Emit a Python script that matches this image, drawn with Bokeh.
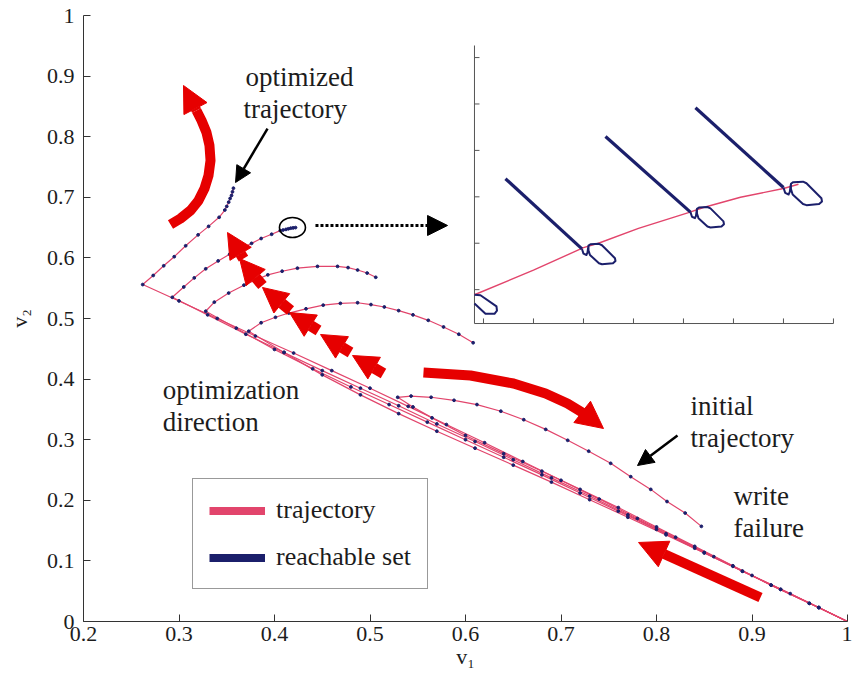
from bokeh.plotting import figure
from bokeh.models import (Range1d, Arrow, NormalHead, Legend, LegendItem, FixedTicker,
                          CustomJSTickFormatter, ColumnDataSource)
from bokeh.core.properties import value
from bokeh.embed import file_html
from bokeh.resources import INLINE

# ---------------- data ----------------
x_ticks = [0.2, 0.3, 0.4, 0.5, 0.6, 0.7, 0.8, 0.9, 1.0]
y_ticks = [0.0, 0.1, 0.2, 0.3, 0.4, 0.5, 0.6, 0.7, 0.8, 0.9, 1.0]

# straight legs: corner -> write failure point (1, 0)
leg_a_x = [0.262, 0.30, 0.34, 0.38, 0.42, 0.46, 0.50, 0.54, 0.58, 0.62, 0.66, 0.70, 0.74, 0.78, 0.82, 0.86, 0.90, 0.94, 0.97, 1.0]
leg_a_y = [0.556, 0.529, 0.500, 0.471, 0.443, 0.414, 0.385, 0.355, 0.325, 0.295, 0.264, 0.233, 0.202, 0.170, 0.139, 0.107, 0.076, 0.046, 0.023, 0.0]
leg_b_x = [0.293, 0.33, 0.37, 0.41, 0.45, 0.49, 0.53, 0.57, 0.61, 0.65, 0.69, 0.73, 0.77, 0.81, 0.85, 0.89, 0.93, 0.97, 1.0]
leg_b_y = [0.535, 0.506, 0.474, 0.444, 0.414, 0.385, 0.356, 0.326, 0.297, 0.267, 0.237, 0.207, 0.176, 0.145, 0.114, 0.083, 0.053, 0.023, 0.0]
leg_c_x = [0.328, 0.36, 0.40, 0.44, 0.48, 0.52, 0.56, 0.60, 0.64, 0.68, 0.72, 0.76, 0.80, 0.84, 0.88, 0.92, 0.96, 1.0]
leg_c_y = [0.512, 0.484, 0.449, 0.417, 0.387, 0.358, 0.329, 0.300, 0.271, 0.242, 0.212, 0.182, 0.152, 0.121, 0.091, 0.060, 0.030, 0.0]
leg_d_x = [0.373, 0.41, 0.45, 0.49, 0.53, 0.57, 0.61, 0.65, 0.69, 0.73, 0.77, 0.81, 0.85, 0.89, 0.93, 0.97, 1.0]
leg_d_y = [0.479, 0.444, 0.407, 0.374, 0.343, 0.314, 0.286, 0.258, 0.230, 0.201, 0.172, 0.143, 0.113, 0.083, 0.053, 0.023, 0.0]
leg_e_x = [0.529, 0.545, 0.565, 0.60, 0.64, 0.68, 0.72, 0.76, 0.80, 0.84, 0.88, 0.92, 0.96, 1.0]
leg_e_y = [0.370, 0.354, 0.336, 0.307, 0.277, 0.248, 0.218, 0.188, 0.156, 0.124, 0.092, 0.060, 0.030, 0.0]

# arcs: corner -> end of trajectory
arc_a_x = [0.262, 0.273, 0.284, 0.295, 0.307, 0.320, 0.331, 0.342, 0.348, 0.350, 0.352, 0.3535, 0.355, 0.356, 0.357]
arc_a_y = [0.556, 0.571, 0.587, 0.602, 0.620, 0.638, 0.652, 0.667, 0.679, 0.685, 0.692, 0.698, 0.703, 0.709, 0.715]
arc_b_x = [0.293, 0.305, 0.316, 0.328, 0.341, 0.353, 0.365, 0.376, 0.386, 0.397, 0.406, 0.409, 0.412, 0.4145, 0.417, 0.4195, 0.422]
arc_b_y = [0.535, 0.552, 0.567, 0.582, 0.595, 0.606, 0.615, 0.624, 0.632, 0.639, 0.645, 0.646, 0.647, 0.648, 0.649, 0.6495, 0.650]
arc_c_x = [0.328, 0.337, 0.352, 0.368, 0.381, 0.393, 0.408, 0.424, 0.445, 0.466, 0.477, 0.487, 0.497, 0.506]
arc_c_y = [0.512, 0.527, 0.542, 0.555, 0.564, 0.572, 0.578, 0.583, 0.586, 0.586, 0.584, 0.580, 0.575, 0.568]
arc_d_x = [0.373, 0.386, 0.401, 0.415, 0.433, 0.451, 0.469, 0.487, 0.501, 0.515, 0.530, 0.545, 0.561, 0.577, 0.593, 0.608]
arc_d_y = [0.479, 0.493, 0.502, 0.509, 0.516, 0.522, 0.525, 0.526, 0.523, 0.519, 0.513, 0.506, 0.497, 0.486, 0.474, 0.460]
arc_e_x = [0.529, 0.543, 0.564, 0.588, 0.612, 0.637, 0.661, 0.684, 0.707, 0.729, 0.752, 0.773, 0.794, 0.811, 0.830, 0.847]
arc_e_y = [0.370, 0.372, 0.370, 0.365, 0.358, 0.347, 0.333, 0.317, 0.299, 0.281, 0.261, 0.239, 0.218, 0.198, 0.179, 0.157]

# inset (zoom of the circled region), inset units
inset_x_ticks = [0, 1, 2, 3, 4, 5, 6, 7]
inset_y_ticks = [0, 1, 2, 3, 4, 5]
inset_traj_x = [-0.18, 1.0, 2.0, 2.3, 3.1, 4.1, 4.4, 5.14, 6.0, 6.3]
inset_traj_y = [-0.11, 0.42, 0.905, 1.0, 1.32, 1.66, 1.77, 1.99, 2.18, 2.27]
inset_diag_x0 = [0.44, 2.44, 4.24]
inset_diag_y0 = [2.39, 3.30, 3.92]
inset_diag_x1 = [1.97, 4.14, 6.0]
inset_diag_y1 = [0.877, 1.67, 2.2]
inset_loop_scale = [1.0, 1.0, 1.15]
loop_shape_x = [0.0, 0.03, 0.09, 0.11, 0.12, 0.13, 0.17, 0.34, 0.40, 0.66, 0.67, 0.62, 0.40, 0.34, 0.16, 0.13, 0.13]
loop_shape_y = [0.0, -0.10, -0.13, -0.08, 0.0, 0.07, 0.10, 0.11, 0.08, -0.20, -0.26, -0.31, -0.33, -0.31, -0.13, -0.03, 0.07]
first_loop_x = [-0.18, -0.06, 0.26, 0.27, 0.22, 0.04, -0.18]
first_loop_y = [-0.11, -0.12, -0.36, -0.45, -0.52, -0.52, -0.30]

# red "optimization direction" arrows
left_arc_x = [0.2911, 0.3016, 0.3120, 0.3204, 0.3267, 0.3309, 0.3330, 0.3319, 0.3288, 0.3236, 0.3183]
left_arc_y = [0.6551, 0.6650, 0.6782, 0.6947, 0.7145, 0.7360, 0.7607, 0.7855, 0.8069, 0.8267, 0.8432]
left_tip = (0.3047, 0.8845)
mid_arc_x = [0.556, 0.6052, 0.6503, 0.6838, 0.7068, 0.7257]
mid_arc_y = [0.4109, 0.4059, 0.3927, 0.3762, 0.3597, 0.3416]
mid_tip = (0.7445, 0.3185)
blk_tail_x = [0.5141, 0.4796, 0.4461, 0.4168, 0.3874, 0.3675]
blk_tail_y = [0.4092, 0.4439, 0.4802, 0.5132, 0.5545, 0.5990]
blk_tip_x = [0.4817, 0.4482, 0.4157, 0.3874, 0.3634, 0.3508]
blk_tip_y = [0.4389, 0.4736, 0.5099, 0.5512, 0.5990, 0.6419]
low_arrow = (0.9089, 0.0396, 0.7812, 0.1304)

# black annotations
opt_arrow = (0.3927, 0.8135, 0.3592, 0.7244)
init_arrow = (0.8220, 0.3069, 0.7801, 0.2574)
zoom_arrow = (0.4429, 0.6535, 0.5812, 0.6535)
circle_xy = (0.4188, 0.6502)

note_x = [0.3696, 0.3675, 0.2830, 0.2830, 0.8356, 0.8356, 0.8806, 0.8806]
note_y = [0.8977, 0.8465, 0.3812, 0.3284, 0.3564, 0.3036, 0.2079, 0.1551]
note_text = ["optimized", "trajectory", "optimization", "direction",
             "initial", "trajectory", "write", "failure"]

# ---------------- style ----------------
SERIF = "Liberation Serif"
PINK = "#e2456c"
NAVY = "#1b1f6b"
RED = "#e60000"
INK = "#1c1c1c"

p = figure(width=852, height=679, x_range=Range1d(0.2, 1.0), y_range=Range1d(0.0, 1.0),
           output_backend="svg", toolbar_location=None,
           min_border_left=83, min_border_right=5, min_border_top=15, min_border_bottom=58,
           outline_line_color=None, background_fill_color="white")
p.grid.visible = False

fmt = CustomJSTickFormatter(code="return (Math.round(tick*10)/10).toString();")
for ax, ticks, lab in ((p.xaxis[0], x_ticks, "v\u2081"), (p.yaxis[0], y_ticks, "v\u2082")):
    ax.ticker = FixedTicker(ticks=ticks)
    ax.formatter = fmt
    ax.major_tick_in = 7
    ax.major_tick_out = 0
    ax.minor_tick_line_color = None
    ax.axis_line_color = "#333333"
    ax.major_tick_line_color = "#333333"
    ax.major_label_text_font = SERIF
    ax.major_label_text_font_size = "22px"
    ax.major_label_text_color = INK
    ax.axis_label = lab
    ax.axis_label_text_font = SERIF
    ax.axis_label_text_font_style = "normal"
    ax.axis_label_text_font_size = "22px"
    ax.axis_label_text_color = INK
p.xaxis.major_label_standoff = 5
p.xaxis.axis_label_standoff = 0
p.yaxis.major_label_standoff = 9
p.yaxis.axis_label_standoff = 12

# ---------------- trajectories ----------------
trajs = [(leg_a_x, leg_a_y, arc_a_x, arc_a_y), (leg_b_x, leg_b_y, arc_b_x, arc_b_y),
         (leg_c_x, leg_c_y, arc_c_x, arc_c_y), (leg_d_x, leg_d_y, arc_d_x, arc_d_y),
         (leg_e_x, leg_e_y, arc_e_x, arc_e_y)]
xs, ys, dx, dy = [], [], [], []
for lx, ly, ax_, ay_ in trajs:
    tx = list(reversed(lx)) + list(ax_[1:])
    ty = list(reversed(ly)) + list(ay_[1:])
    xs.append(tx)
    ys.append(ty)
    dx += tx[1:]
    dy += ty[1:]
p.multi_line(xs, ys, line_color=PINK, line_width=1.2)
p.scatter(dx, dy, marker="circle", size=2.8, fill_color=NAVY, line_color=NAVY)

# ---------------- red arrows ----------------
p.line(left_arc_x, left_arc_y, line_color=RED, line_width=10, line_join="round")
p.add_layout(Arrow(end=NormalHead(size=26, fill_color=RED, line_color=RED),
                   x_start=left_arc_x[-1], y_start=left_arc_y[-1], x_end=left_tip[0], y_end=left_tip[1],
                   line_color=RED, line_width=10))
p.line(mid_arc_x, mid_arc_y, line_color=RED, line_width=10, line_join="round")
p.add_layout(Arrow(end=NormalHead(size=27, fill_color=RED, line_color=RED),
                   x_start=mid_arc_x[-1], y_start=mid_arc_y[-1], x_end=mid_tip[0], y_end=mid_tip[1],
                   line_color=RED, line_width=10))
blk = ColumnDataSource(dict(x0=blk_tail_x, y0=blk_tail_y, x1=blk_tip_x, y1=blk_tip_y))
p.add_layout(Arrow(end=NormalHead(size=25, fill_color=RED, line_color=RED),
                   x_start="x0", y_start="y0", x_end="x1", y_end="y1", source=blk,
                   line_color=RED, line_width=11))
p.add_layout(Arrow(end=NormalHead(size=28, fill_color=RED, line_color=RED),
                   x_start=low_arrow[0], y_start=low_arrow[1], x_end=low_arrow[2], y_end=low_arrow[3],
                   line_color=RED, line_width=10))

# ---------------- black annotations ----------------
for (x0, y0, x1, y1) in (opt_arrow, init_arrow):
    p.add_layout(Arrow(end=NormalHead(size=16, fill_color="black", line_color="black"),
                       x_start=x0, y_start=y0, x_end=x1, y_end=y1,
                       line_color="black", line_width=2.5))
p.add_layout(Arrow(end=NormalHead(size=20, fill_color="black", line_color="black"),
                   x_start=zoom_arrow[0], y_start=zoom_arrow[1], x_end=zoom_arrow[2], y_end=zoom_arrow[3],
                   line_color="black", line_width=3, line_dash="3 2"))
p.ellipse(x=[circle_xy[0]], y=[circle_xy[1]], width=26, height=20,
          width_units="screen", height_units="screen",
          fill_color=None, line_color="black", line_width=1.6)

p.text(x=note_x, y=note_y, text=note_text, text_font=value(SERIF), text_font_size="27px",
       text_baseline="middle", text_align="left", text_color=INK)

# ---------------- inset ----------------
INSET_L, INSET_R, INSET_B, INSET_T = 0.6094, 0.9853, 0.4917, 0.9505   # inset box in main coords
IX0, IX1, IY0, IY1 = -0.18, 7.0, -0.73, 5.26                        # inset data range
sx = (IX1 - IX0) / (INSET_R - INSET_L)
sy = (IY1 - IY0) / (INSET_T - INSET_B)
p.extra_x_ranges = {"ix": Range1d(IX0 - (INSET_L - 0.2) * sx, IX0 + (1.0 - INSET_L) * sx)}
p.extra_y_ranges = {"iy": Range1d(IY0 - (INSET_B - 0.0) * sy, IY0 + (1.0 - INSET_B) * sy)}
IK = dict(x_range_name="ix", y_range_name="iy")

seg_x0 = [IX0, IX0] + [t for t in inset_x_ticks] + [IX0 for _ in inset_y_ticks]
seg_y0 = [IY0, IY0] + [IY0 for _ in inset_x_ticks] + [t for t in inset_y_ticks]
seg_x1 = [IX0, IX1] + [t for t in inset_x_ticks] + [IX0 + 0.1 for _ in inset_y_ticks]
seg_y1 = [IY1, IY0] + [IY0 + 0.11 for _ in inset_x_ticks] + [t for t in inset_y_ticks]
p.segment(seg_x0, seg_y0, seg_x1, seg_y1, line_color="#555555", line_width=1, **IK)

p.line(inset_traj_x, inset_traj_y, line_color=PINK, line_width=1.4, **IK)
p.segment(inset_diag_x0, inset_diag_y0, inset_diag_x1, inset_diag_y1,
          line_color=NAVY, line_width=3.2, **IK)
loops_x = [first_loop_x] + [[jx + s * u for u in loop_shape_x]
                            for jx, s in zip(inset_diag_x1, inset_loop_scale)]
loops_y = [first_loop_y] + [[jy + s * v for v in loop_shape_y]
                            for jy, s in zip(inset_diag_y1, inset_loop_scale)]
p.multi_line(loops_x, loops_y, line_color=NAVY, line_width=2, line_join="round", **IK)

# ---------------- legend ----------------
# proxy renderers (placed outside the visible range) that only provide the legend glyphs
r_traj = p.line([-5, -4], [-5, -5], line_color=PINK, line_width=8)
r_reach = p.line([-5, -4], [-5, -5], line_color=NAVY, line_width=8)
legend = Legend(items=[LegendItem(label="trajectory", renderers=[r_traj]),
                       LegendItem(label="reachable set", renderers=[r_reach])],
                location=(109, 32), padding=16, spacing=17, margin=0,
                glyph_width=56, glyph_height=27, label_height=27, label_width=128,
                label_standoff=11, label_text_font=SERIF, label_text_font_size="26px",
                label_text_color=INK, border_line_color="#333333", border_line_width=1,
                background_fill_color="white", background_fill_alpha=1.0)
p.add_layout(legend)

open("out.html", "w").write(file_html(p, INLINE))
